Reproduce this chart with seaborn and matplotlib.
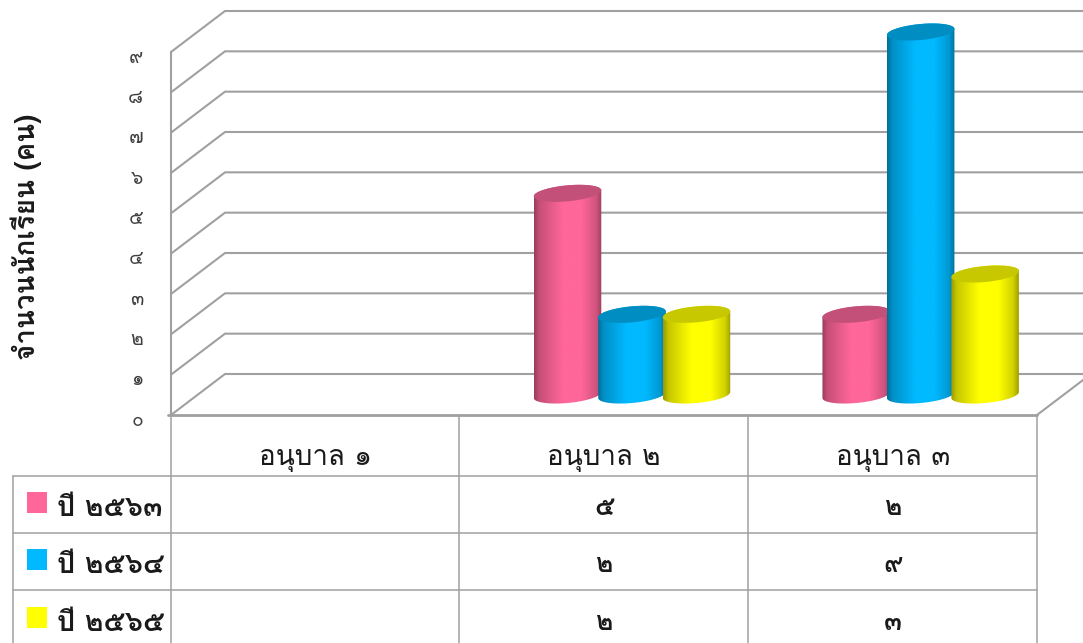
import numpy as np
import pandas as pd
import matplotlib
matplotlib.use("Agg")
import matplotlib.pyplot as plt
from matplotlib.colors import to_hex, to_rgb
from matplotlib.patches import Polygon, Rectangle
from matplotlib.transforms import Affine2D, ScaledTranslation, blended_transform_factory
import seaborn as sns

# data
categories = ["อนุบาล ๑", "อนุบาล ๒", "อนุบาล ๓"]
years = ["ปี ๒๕๖๓", "ปี ๒๕๖๔", "ปี ๒๕๖๕"]
y2563 = [np.nan, 5, 2]
y2564 = [np.nan, 2, 9]
y2565 = [np.nan, 2, 3]
colors = ["#ff6699", "#00b9ff", "#ffff00"]
top_colors = ["#c25078", "#008dc2", "#c8c800"]
y_ticks = list(range(10))
thai_digits = str.maketrans("0123456789", "๐๑๒๓๔๕๖๗๘๙")

W, H = 1083, 643
GRID = "#A0A0A0"
TEXT = "#1A1A1A"

sns.set_style("white")
plt.rcParams["font.family"] = ["Loma", "Noto Sans Thai Looped", "DejaVu Sans"]


def thai(v):
    return "" if np.isnan(v) else str(int(v)).translate(thai_digits)


# plot area in pixels (front plane of the 3D box)
left, right, floor, top = 171, 1037, 415, 52
fig = plt.figure(figsize=(W / 100, H / 100), dpi=100, facecolor="white")
ax = fig.add_axes([left / W, 1 - floor / H, (right - left) / W, (floor - top) / H])
ax.set_xlim(-0.5, 2.5)
ax.set_ylim(0, 9)
px_x = (right - left) / 3
px_y = (floor - top) / 9
px = Affine2D().scale(1, -1).translate(0, H)  # image pixels, y going down

# --------------------------
# walls and floor
# --------------------------
depth_x = 54 / px_x
depth_y = 41 / px_y
for v in y_ticks:
    ax.plot([-0.5, -0.5 + depth_x, 3.0], [v, v + depth_y, v + depth_y],
            color=GRID, lw=1.5, clip_on=False, zorder=1, solid_capstyle="butt")
ax.plot([2.5, 2.5 + depth_x], [0, depth_y], color=GRID, lw=1.5, clip_on=False, zorder=1)
ax.plot([-0.5 - 3 / px_x, 2.5], [0, 0], color=GRID, lw=2, clip_on=False, zorder=1)

for s in ["top", "right", "bottom"]:
    ax.spines[s].set_visible(False)
ax.spines["left"].set_color(GRID)
ax.spines["left"].set_linewidth(1.5)
ax.patch.set_alpha(0)

ax.set_yticks(y_ticks, [thai(v) for v in y_ticks], va="center", fontsize=14, color="#404040")
ax.tick_params(axis="y", length=0, pad=20)
for lab in ax.get_yticklabels():
    lab.set_transform(lab.get_transform() + ScaledTranslation(0, -4 / 72, fig.dpi_scale_trans))
ax.set_xticks(range(3), categories, fontsize=20, color=TEXT)
ax.tick_params(axis="x", length=0, pad=22.5)
ax.set_ylabel("จำนวนนักเรียน (คน)", fontsize=20, fontweight="bold", color=TEXT, va="center")
ax.yaxis.set_label_coords((26 - left) / (right - left), (floor - 236.5) / (floor - top))

# --------------------------
# table under the chart
# --------------------------
tbl = blended_transform_factory(ax.transData, px)
row_lines = [475.5, 533, 589.5]
for y in row_lines:
    fig.add_artist(plt.Line2D([13, right], [y, y], transform=px, color=GRID, lw=1.1))
for x in [13, left, 459, 748, right]:
    y0 = 475.5 if x == 13 else floor
    fig.add_artist(plt.Line2D([x, x], [y0, H], transform=px, color=GRID, lw=1.1))

series = [y2563, y2564, y2565]
row_y = [508, 565, 623]
for r, name in enumerate(years):
    fig.add_artist(Rectangle((27, row_y[r] - 16.5), 20, 21.5, transform=px, color=colors[r], lw=0))
    fig.text(57, row_y[r], name, transform=px, fontsize=20.5, fontweight="bold", color=TEXT, va="center")
    for c, v in enumerate(series[r]):
        ax.text(c, row_y[r], thai(v), transform=tbl, fontsize=19, fontweight="bold",
                color=TEXT, ha="center", va="center", clip_on=False)

# --------------------------
# bars: same scale as ax, moved half the depth into the box
# --------------------------
off_x, off_y = 28, 20
ax2 = fig.add_axes([(left + off_x) / W, 1 - (floor - off_y) / H, (right - left) / W, (floor - top) / H])
df = pd.DataFrame({
    "level": categories * 3,
    "year": np.repeat(years, 3),
    "count": y2563 + y2564 + y2565,
})
sns.barplot(data=df, x="level", y="count", hue="year", order=categories, hue_order=years,
            palette=colors, width=0.67, saturation=1, errorbar=None, legend=False, ax=ax2)

half_w = 33.75 / px_x
ell_b, ell_k = 8.0, 3.0  # ellipse half height and tilt, pixels
shade = np.interp(np.linspace(0, 1, 120), [0, 0.08, 0.42, 0.7, 0.92, 1], [0.6, 0.78, 1, 1, 0.82, 0.62])
lids = dict(zip(colors, top_colors))


def ring(cx, cy, t):
    return np.column_stack([cx + half_w * np.cos(t),
                            cy + (ell_b * np.sin(t) + ell_k * np.cos(t)) / px_y])


bars = [p for p in ax2.patches if p.get_height() > 0]
bars.sort(key=lambda p: p.get_x())
for i, p in enumerate(bars):
    p.set_visible(False)
    cx = p.get_x() + p.get_width() / 2
    h = p.get_height()
    col = to_hex(p.get_facecolor())

    # body with gradient, cut to the cylinder outline
    front = np.vstack([ring(cx, 0, np.linspace(np.pi, 2 * np.pi, 60)),
                       ring(cx, h, np.linspace(0, np.pi, 60))])
    clip = Polygon(front, closed=True, transform=ax2.transData)
    grad = (shade[:, None] * np.array(to_rgb(col)))[None, :, :]
    im = ax2.imshow(grad, extent=[cx - half_w, cx + half_w, -1, h + 1], aspect="auto",
                    interpolation="bilinear", zorder=3 + i)
    im.set_clip_box(fig.bbox)
    im.set_clip_path(clip)
    ax2.add_patch(Polygon(ring(cx, h, np.linspace(0, 2 * np.pi, 120)), closed=True,
                          facecolor=lids[col], edgecolor="none", zorder=3.5 + i, clip_on=False))

ax2.set_xlim(-0.5, 2.5)
ax2.set_ylim(0, 9)
ax2.axis("off")
ax2.patch.set_alpha(0)

fig.savefig("out.png", dpi=100, facecolor="white")
